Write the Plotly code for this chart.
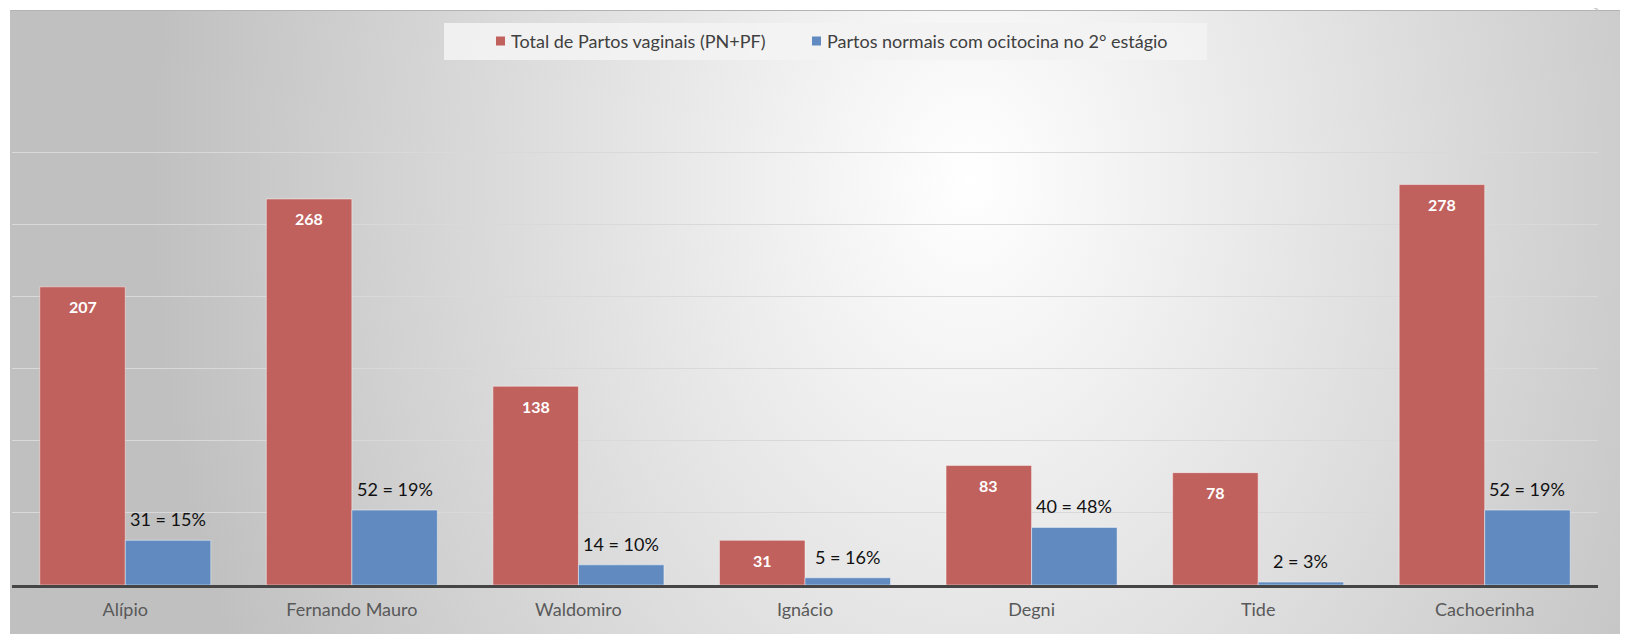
import base64
import plotly.graph_objects as go

categories = ["Alípio", "Fernando Mauro", "Waldomiro", "Ignácio", "Degni", "Tide", "Cachoerinha"]
total_vaginais = [207, 268, 138, 31, 83, 78, 278]
ocitocina = [31, 52, 14, 5, 40, 2, 52]
ocitocina_pct = [15, 19, 10, 16, 48, 3, 19]

name_red = "Total de Partos vaginais (PN+PF)"
name_blue = "Partos normais com ocitocina no 2° estágio"

RED = "#C1615E"
BLUE = "#618BC0"
FONT = "Lato"

# figure size (the page adds an 8px body margin)
W, H = 1620, 626
L, R, T, B = 4, 30, 142, 49
PW, PH = W - L - R, H - T - B


def pxx(x):
    return (x - L) / PW


def pxy(y):
    return (H - B - y) / PH


BARGAP = 0.245
half = (1 - BARGAP) / 4  # center offset of each bar in a 2-bar group

fig = go.Figure()
fig.add_trace(go.Bar(
    x=categories, y=total_vaginais, name=name_red,
    marker=dict(color=RED, line=dict(color="rgba(255,255,255,0.45)", width=1)),
    hoverinfo="skip", showlegend=False,
))
fig.add_trace(go.Bar(
    x=categories, y=ocitocina, name=name_blue,
    marker=dict(color=BLUE, line=dict(color="rgba(255,255,255,0.45)", width=1)),
    hoverinfo="skip", showlegend=False,
))

annotations = []
for i, v in enumerate(total_vaginais):
    annotations.append(dict(
        x=i - half, y=v, xref="x", yref="y", text=f"<b>{v}</b>", showarrow=False,
        yshift=-20, yanchor="middle", font=dict(family=FONT, size=16, color="white"),
    ))
for i, (v, p) in enumerate(zip(ocitocina, ocitocina_pct)):
    annotations.append(dict(
        x=i + half, y=v, xref="x", yref="y", text=f"{v} = {p}%", showarrow=False,
        yshift=21, yanchor="middle", font=dict(family=FONT, size=18, color="#111111"),
    ))

# custom legend (text)
annotations.append(dict(xref="paper", yref="paper", x=pxx(501), y=pxy(33), xanchor="left",
                        yanchor="middle", text=name_red, showarrow=False,
                        font=dict(family=FONT, size=18, color="#404040")))
annotations.append(dict(xref="paper", yref="paper", x=pxx(817), y=pxy(33), xanchor="left",
                        yanchor="middle", text=name_blue, showarrow=False,
                        font=dict(family=FONT, size=18, color="#404040")))

svg = (
    '<svg xmlns="http://www.w3.org/2000/svg" width="1618" height="624" viewBox="0 0 1618 624" '
    'preserveAspectRatio="none"><defs><radialGradient id="g" gradientUnits="userSpaceOnUse" '
    'cx="0" cy="0" r="1" gradientTransform="translate(960 170) scale(820 1100)">'
    '<stop offset="0" stop-color="#ffffff"/><stop offset="1" stop-color="#c0c0c0"/>'
    '</radialGradient></defs><rect width="1618" height="624" fill="url(#g)"/></svg>'
)
src = "data:image/svg+xml;base64," + base64.b64encode(svg.encode()).decode()

shapes = [
    dict(type="rect", xref="paper", yref="paper", x0=pxx(436), x1=pxx(1199), y0=pxy(52), y1=pxy(15),
         fillcolor="rgba(243,243,243,0.9)", line=dict(width=0), layer="below"),
    dict(type="rect", xref="paper", yref="paper", x0=pxx(488), x1=pxx(497), y0=pxy(37.5), y1=pxy(28.5),
         fillcolor=RED, line=dict(width=0), layer="above"),
    dict(type="rect", xref="paper", yref="paper", x0=pxx(804), x1=pxx(813), y0=pxy(37.5), y1=pxy(28.5),
         fillcolor=BLUE, line=dict(width=0), layer="above"),
    dict(type="line", xref="paper", yref="paper", x0=pxx(2), x1=pxx(1620), y0=pxy(2.5), y1=pxy(2.5),
         line=dict(color="#b3b3b3", width=1), layer="below"),
    dict(type="line", xref="paper", yref="paper", x0=pxx(1575), x1=pxx(1590), y0=pxy(-8), y1=pxy(2),
         line=dict(color="#cfcfcf", width=2), layer="below"),
]

fig.update_layout(
    width=W, height=H,
    margin=dict(l=L, r=R, t=T, b=B, pad=0),
    paper_bgcolor="white", plot_bgcolor="rgba(0,0,0,0)",
    barmode="group", bargap=BARGAP, bargroupgap=0,
    font=dict(family=FONT),
    showlegend=False,
    xaxis=dict(showline=True, linecolor="#454545", linewidth=2.5, ticks="", showgrid=False,
               tickfont=dict(family=FONT, size=18, color="#595959"), ticklabelstandoff=7,
               fixedrange=True),
    yaxis=dict(range=[0, 302], dtick=50, showgrid=True, gridcolor="#d9d9d9", gridwidth=1,
               showticklabels=False, zeroline=False, showline=False, fixedrange=True),
    annotations=annotations,
    shapes=shapes,
    images=[dict(source=src, xref="paper", yref="paper", x=pxx(2), y=pxy(2),
                 sizex=1618 / PW, sizey=624 / PH, xanchor="left", yanchor="top",
                 sizing="stretch", layer="below")],
)

fig.write_html("out.html", config={"displayModeBar": False})
